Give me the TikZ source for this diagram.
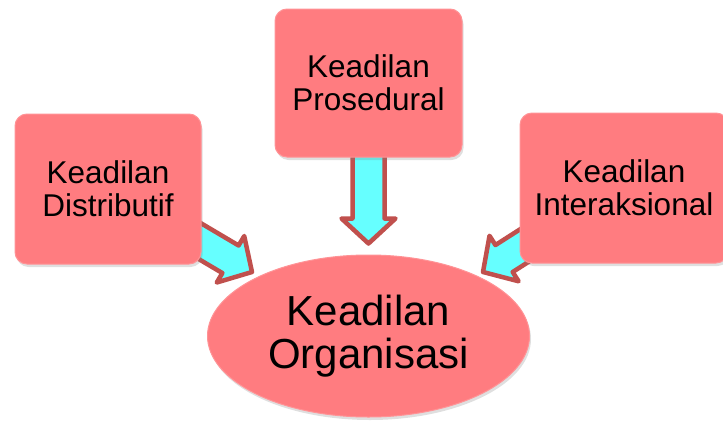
\documentclass[tikz,border=0pt]{standalone}
\usepackage{fontspec}
\setmainfont{Liberation Sans}
\usetikzlibrary{shapes.geometric,shadows}
\definecolor{boxfill}{HTML}{FF7C80}
\definecolor{boxedge}{HTML}{FF9396}
\definecolor{arrfill}{HTML}{66FFFF}
\definecolor{arredge}{HTML}{C0504D}
\tikzset{
  box/.style={rectangle, rounded corners=12pt, fill=boxfill, draw=boxedge, line width=1pt,
    inner sep=0pt, align=center, text=black,
    font=\fontsize{31.5}{33}\selectfont,
    drop shadow={opacity=0.25, shadow xshift=1.5pt, shadow yshift=-3pt}},
  bigell/.style={ellipse, fill=boxfill, draw=boxedge, line width=1pt, inner sep=0pt,
    minimum width=322pt, minimum height=162pt, align=center, text=black,
    font=\fontsize{42}{43}\selectfont,
    drop shadow={opacity=0.25, shadow xshift=1.5pt, shadow yshift=-3pt}},
  arrline/.style={fill=arrfill, draw=arredge, line width=4.5pt, line join=round},
  barrow/.pic={\draw[arrline] (-95,-16) -- (-25,-16) -- (-25,-27) -- (0,0) -- (-25,27) -- (-25,16) -- (-95,16) -- cycle;}
}
\begin{document}
\begin{tikzpicture}[x=1pt,y=-1pt]
\useasboundingbox (0,0) rectangle (723,426);
\clip (0,0) rectangle (723,426);
% block arrows (drawn under the boxes)
\pic[rotate=-30.6] at (252,272) {barrow};
\pic[rotate=-90] at (368.5,243.5) {barrow};
\pic[rotate=-147.4] at (483,272) {barrow};
% nodes
\node[box, minimum width=186pt, minimum height=150pt] (dist) at (108,189) {Keadilan\\Distributif};
\node[box, minimum width=187pt, minimum height=148pt] (pros) at (368.5,83) {Keadilan\\Prosedural};
\node[box, minimum width=208pt, minimum height=150pt] (inter) at (624,188) {Keadilan\\Interaksional};
\node[bigell] (org) at (368.5,336) {Keadilan\\Organisasi};
\end{tikzpicture}
\end{document}
